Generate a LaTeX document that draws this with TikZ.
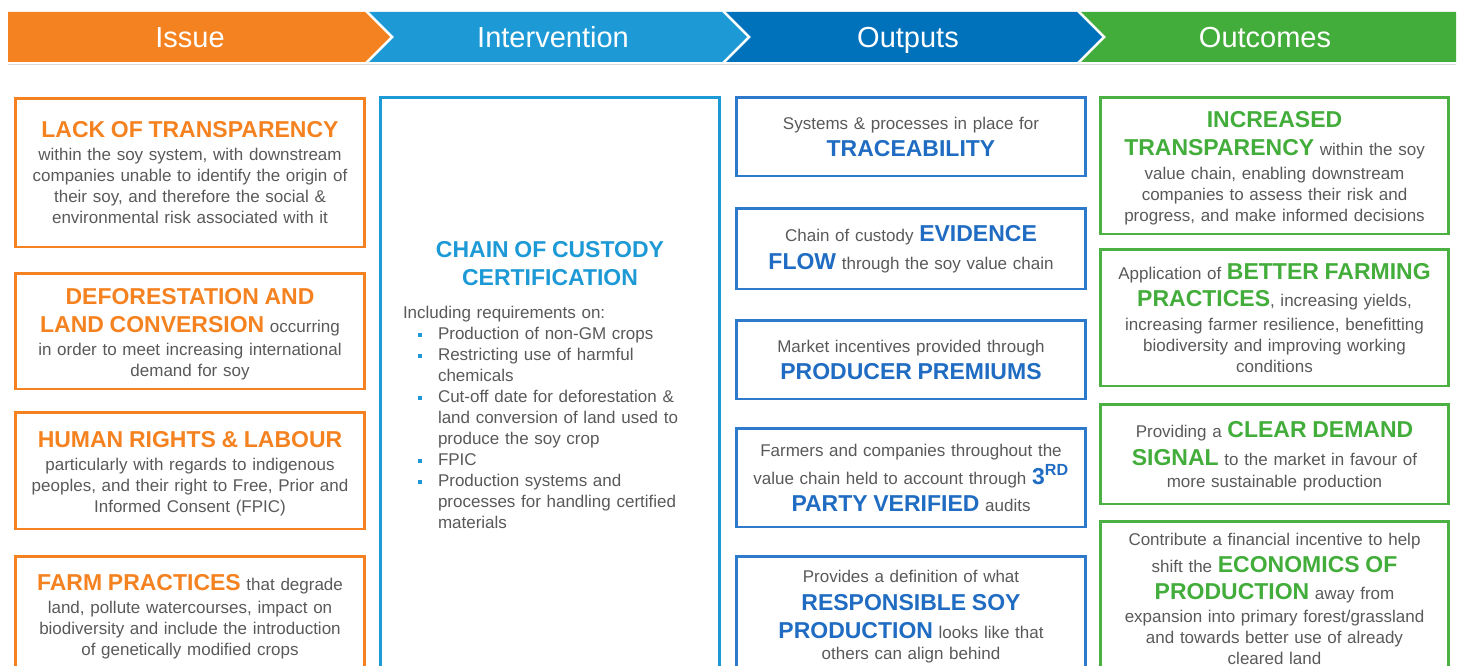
\documentclass[tikz,border=0pt]{standalone}
\usepackage{fontspec}
\setmainfont{Liberation Sans}
\setlength{\parindent}{0pt}

\definecolor{issueorange}{HTML}{F58220}
\definecolor{intblue}{HTML}{1D9AD6}
\definecolor{outblue}{HTML}{0071BB}
\definecolor{outframe}{HTML}{2D79CC}
\definecolor{outhead}{HTML}{1F6CC2}
\definecolor{resgreen}{HTML}{43AD3B}
\definecolor{resframe}{HTML}{4AB142}
\definecolor{bodygray}{HTML}{595959}

\newcommand\issuehd[1]{{\fontsize{23}{28}\selectfont\bfseries\color{issueorange}#1}}
\newcommand\inthd[1]{{\fontsize{23}{28}\selectfont\bfseries\color{intblue}#1}}
\newcommand\outhd[1]{{\fontsize{23}{28}\selectfont\bfseries\color{outhead}#1}}
\newcommand\reshd[1]{{\fontsize{23}{28}\selectfont\bfseries\color{resgreen}#1}}
\newcommand\ccitem[1]{\hangindent=35pt\hangafter=1\hspace*{15pt}\makebox[20pt][l]{\textcolor{intblue}{\rule[3pt]{3.5pt}{3.5pt}}}#1\par}

\begin{document}
\begin{tikzpicture}[x=1pt,y=-1pt,
  banner/.style={text=white, anchor=base, font=\fontsize{29}{34}\selectfont},
  colbox/.style={line width=2.6pt, inner sep=0pt, align=center, text=bodygray, font=\fontsize{17}{21}\selectfont},
  issuebox/.style={colbox, draw=issueorange, minimum width=349pt, text width=345pt},
  intbox/.style={colbox, draw=intblue, minimum width=339pt, text width=294pt, align=left},
  outbox/.style={colbox, draw=outframe, minimum width=349pt, text width=345pt},
  resbox/.style={colbox, draw=resframe, minimum width=348pt, text width=345pt}]

\useasboundingbox (0,0) rectangle (1458,666);
\clip (0,0) rectangle (1458,666);

\fill [issueorange] (8,12) -- (365,12) -- (390,37) -- (365,62) -- (8,62) -- cycle;
\fill [intblue] (369,12) -- (722,12) -- (747,37) -- (722,62) -- (369,62) -- (394,37) -- cycle;
\fill [outblue] (726,12) -- (1077,12) -- (1102,37) -- (1077,62) -- (726,62) -- (751,37) -- cycle;
\fill [resgreen] (1081,12) -- (1456,12) -- (1456,62) -- (1081,62) -- (1106,37) -- cycle;
\draw [black!15, line width=1pt] (8,65) -- (1456,65);

\node [banner] (issue) at (190,47.5) {Issue};
\node [banner] (intervention) at (553,47.5) {Intervention};
\node [banner] (outputs) at (908,47.5) {Outputs};
\node [banner] (outcomes) at (1265,47.5) {Outcomes};

\node [issuebox, minimum height=148.5pt] (lack) at (190,172.75)
  {\issuehd{LACK OF TRANSPARENCY}\\[2pt] within the soy system, with downstream\\ companies unable to identify the origin of\\ their soy, and therefore the social \&\\ environmental risk associated with it};
\node [issuebox, minimum height=115.5pt] (defor) at (190,331.25)
  {\rule{0pt}{22.5pt}\issuehd{DEFORESTATION AND}\\[7pt] \issuehd{LAND CONVERSION} occurring\\[2pt] in order to meet increasing international\\ demand for soy};
\node [issuebox, minimum height=116.5pt] (rights) at (190,470.75)
  {\rule{0pt}{22.5pt}\issuehd{HUMAN RIGHTS \& LABOUR}\\[2pt] particularly with regards to indigenous\\ peoples, and their right to Free, Prior and\\ Informed Consent (FPIC)};
\node [issuebox, minimum height=120pt] (farm) at (190,616.5)
  {\issuehd{FARM PRACTICES} that degrade\\[2pt] land, pollute watercourses, impact on\\ biodiversity and include the introduction\\ of genetically modified crops};

\node [intbox, minimum height=579.5pt] (custody) at (550,387.25)
  {{\centering \inthd{CHAIN OF CUSTODY}\\[7pt] \inthd{CERTIFICATION}\par}
   \vspace{12pt}
   Including requirements on:\par
   \ccitem{Production of non-GM crops}
   \ccitem{Restricting use of harmful\newline chemicals}
   \ccitem{Cut-off date for deforestation \&\newline land conversion of land used to\newline produce the soy crop}
   \ccitem{FPIC}
   \ccitem{Production systems and\newline processes for handling certified\newline materials}
   \vspace{4pt}};

\node [outbox, minimum height=78.5pt] (trace) at (911,136.75)
  {Systems \& processes in place for\\[6pt] \outhd{TRACEABILITY}};
\node [outbox, minimum height=80.5pt] (evidence) at (911,248.75)
  {Chain of custody \outhd{EVIDENCE}\\[7pt] \outhd{FLOW} through the soy value chain};
\node [outbox, minimum height=78.5pt] (premium) at (911,359.75)
  {Market incentives provided through\\[6pt] \outhd{PRODUCER PREMIUMS}};
\node [outbox, minimum height=98.5pt] (audit) at (911,477.75)
  {Farmers and companies throughout the\\[3pt] value chain held to account through \outhd{3\textsuperscript{RD}}\\[6pt] \outhd{PARTY VERIFIED} audits};
\node [outbox, minimum height=120.5pt] (responsible) at (911,616.75)
  {Provides a definition of what\\[7pt] \outhd{RESPONSIBLE SOY}\\[7pt] \outhd{PRODUCTION} looks like that\\ others can align behind};

\node [resbox, minimum height=136.5pt] (transparency) at (1274.5,165.75)
  {\rule{0pt}{20.5pt}\reshd{INCREASED}\\[7pt] \reshd{TRANSPARENCY} within the soy\\[3pt] value chain, enabling downstream\\ companies to assess their risk and\\ progress, and make informed decisions};
\node [resbox, minimum height=136.5pt] (practices) at (1274.5,317.75)
  {Application of \reshd{BETTER FARMING}\\[6pt] \reshd{PRACTICES}, increasing yields,\\[3pt] increasing farmer resilience, benefitting\\ biodiversity and improving working\\ conditions};
\node [resbox, minimum height=99.5pt] (demand) at (1274.5,454.25)
  {\rule{0pt}{20.5pt}Providing a \reshd{CLEAR DEMAND}\\[7pt] \reshd{SIGNAL} to the market in favour of\\[1pt] more sustainable production};
\node [resbox, minimum height=155.5pt] (economics) at (1274.5,599.25)
  {Contribute a financial incentive to help\\[6pt] shift the \reshd{ECONOMICS OF}\\[6pt] \reshd{PRODUCTION} away from\\[2pt] expansion into primary forest/grassland\\ and towards better use of already\\ cleared land};
\end{tikzpicture}
\end{document}
